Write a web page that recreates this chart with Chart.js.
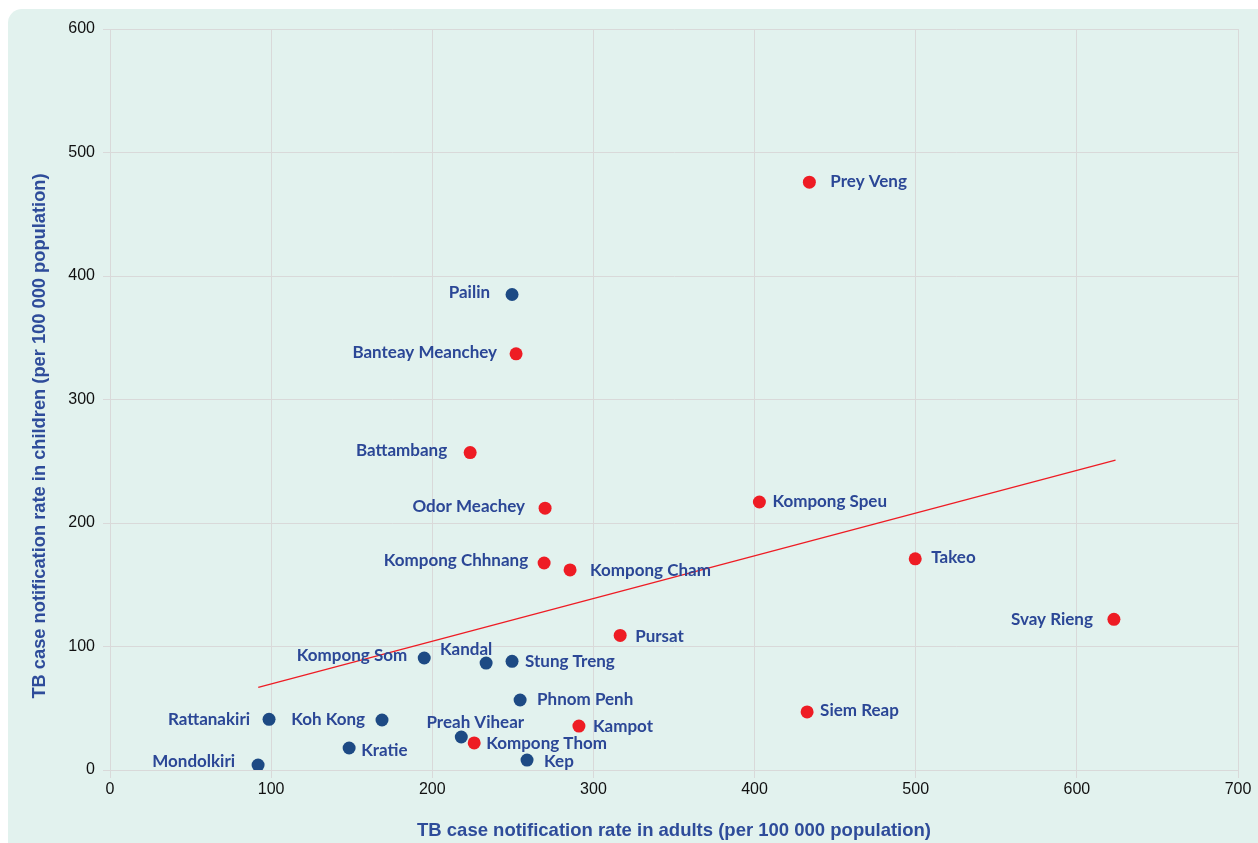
<!DOCTYPE html>
<html>
<head>
<meta charset="utf-8">
<script src="https://cdn.jsdelivr.net/npm/chart.js@4/dist/chart.umd.min.js"></script>
<style>
  html, body { margin: 0; padding: 0; background: #ffffff; }
  #wrap { width: 1258px; height: 843px; position: relative; }
</style>
</head>
<body>
<div id="wrap"><canvas id="tbChart"></canvas></div>
<script>
// Provinces shown in blue
const blueNames = ['Pailin', 'Kompong Som', 'Kandal', 'Stung Treng', 'Phnom Penh', 'Rattanakiri',
  'Koh Kong', 'Preah Vihear', 'Kratie', 'Mondolkiri', 'Kep'];
const blueAdults = [249.5, 195, 233.4, 249.5, 254.5, 98.7, 168.8, 218, 148.4, 91.9, 258.8];
const blueChildren = [385, 90.7, 86.6, 88, 56.7, 41, 40.5, 26.7, 17.8, 4, 8];

// Provinces shown in red
const redNames = ['Prey Veng', 'Banteay Meanchey', 'Battambang', 'Odor Meachey', 'Kompong Speu',
  'Kompong Chhnang', 'Kompong Cham', 'Takeo', 'Svay Rieng', 'Pursat', 'Siem Reap', 'Kampot', 'Kompong Thom'];
const redAdults = [434, 252, 223.5, 270, 403, 269.4, 285.5, 499.7, 623, 316.6, 432.6, 291, 226];
const redChildren = [476, 337, 257, 212, 217, 167.6, 162, 171, 122, 109, 47, 35.6, 21.9];

// Trend line end points
const trendAdults = [92, 624];
const trendChildren = [67, 251];

// Axis ticks
const xTicks = [0, 100, 200, 300, 400, 500, 600, 700];
const yTicks = [0, 100, 200, 300, 400, 500, 600];

const xTitle = 'TB case notification rate in adults (per 100 000 population)';
const yTitle = 'TB case notification rate in children (per 100 000 population)';

// label placement: [dx, dy, align] relative to the dot (pixels)
const blueLabelPos = [[-22, -2, 'right'], [-17, -2, 'right'], [-20, -14, 'center'], [13, 0, 'left'],
  [17, 0, 'left'], [-19, 0, 'right'], [-17, 0, 'right'], [14, -15, 'center'], [12, 2, 'left'],
  [-23, -4, 'right'], [17, 1, 'left']];
const redLabelPos = [[21, -1, 'left'], [-19, -1, 'right'], [-23, -2, 'right'], [-20, -2, 'right'],
  [13, 0, 'left'], [-16, -2, 'right'], [20, 1, 'left'], [16, -1, 'left'], [-21, 0, 'right'],
  [15, 1, 'left'], [13, -1, 'left'], [14, 0, 'left'], [12, 1, 'left']];

const toPoints = (xs, ys) => xs.map((x, i) => ({ x: x, y: ys[i] }));

const titleCol = '#2e4c9a';

// mint rounded background
const panelBg = {
  id: 'panelBg',
  beforeDraw(chart) {
    const c = chart.ctx;
    c.save();
    c.fillStyle = '#e2f2ee';
    c.beginPath();
    c.roundRect(8, 9, chart.width + 20, chart.height + 20, 14);
    c.fill();
    c.restore();
  }
};

// y title sits a bit below the plot centre in the original, so draw it by hand
const yTitlePlugin = {
  id: 'yTitlePlugin',
  afterDraw(chart) {
    const c = chart.ctx;
    c.save();
    c.translate(40, 436);
    c.rotate(-Math.PI / 2);
    c.font = 'bold 18.3px Arial';
    c.fillStyle = titleCol;
    c.textAlign = 'center';
    c.textBaseline = 'middle';
    c.fillText(yTitle, 0, 0);
    c.restore();
  }
};

// province names next to dots
const pointNames = {
  id: 'pointNames',
  afterDatasetsDraw(chart) {
    const c = chart.ctx;
    const sets = [[0, blueNames, blueLabelPos], [1, redNames, redLabelPos]];
    c.save();
    c.font = 'bold 17px Lato';
    c.fillStyle = '#2b4796';
    c.textBaseline = 'middle';
    sets.forEach(([idx, names, pos]) => {
      chart.getDatasetMeta(idx).data.forEach((pt, i) => {
        c.textAlign = pos[i][2];
        c.fillText(names[i], pt.x + pos[i][0], pt.y + pos[i][1]);
      });
    });
    c.restore();
  }
};

const gridCol = '#d9d9d9';

new Chart(document.getElementById('tbChart').getContext('2d'), {
  type: 'scatter',
  data: {
    datasets: [
      {
        label: 'blue',
        data: toPoints(blueAdults, blueChildren),
        backgroundColor: '#1d4a84',
        borderWidth: 0,
        pointRadius: 6.5
      },
      {
        label: 'red',
        data: toPoints(redAdults, redChildren),
        backgroundColor: '#ee1c24',
        borderWidth: 0,
        pointRadius: 6.5
      },
      {
        label: 'trend',
        type: 'line',
        data: toPoints(trendAdults, trendChildren),
        borderColor: '#ee1c24',
        borderWidth: 1.3,
        pointRadius: 0,
        fill: false
      }
    ]
  },
  options: {
    responsive: true,
    maintainAspectRatio: false,
    animation: false,
    layout: { padding: { top: 29, right: 20, left: 0, bottom: 0 } },
    plugins: {
      legend: { display: false },
      tooltip: { enabled: false }
    },
    scales: {
      x: {
        type: 'linear',
        min: 0,
        max: 700,
        afterBuildTicks: (s) => { s.ticks = xTicks.map(v => ({ value: v })); },
        afterFit: (s) => { s.height = 73; },
        grid: { color: gridCol, tickLength: 8 },
        border: { color: gridCol },
        ticks: { color: '#111', font: { family: 'Arial', size: 16 }, padding: 2, maxRotation: 0 },
        title: {
          display: true,
          text: xTitle,
          color: titleCol,
          font: { family: 'Arial', size: 18.5, weight: 'bold' },
          padding: { bottom: 1, top: 0 }
        }
      },
      y: {
        type: 'linear',
        min: 0,
        max: 600,
        afterBuildTicks: (s) => { s.ticks = yTicks.map(v => ({ value: v })); },
        afterFit: (s) => { s.width = 110; },
        grid: { color: gridCol, tickLength: 7 },
        border: { color: gridCol },
        ticks: { color: '#111', font: { family: 'Arial', size: 16 }, padding: 8 }
      }
    }
  },
  plugins: [panelBg, pointNames, yTitlePlugin]
});
</script>
</body>
</html>
